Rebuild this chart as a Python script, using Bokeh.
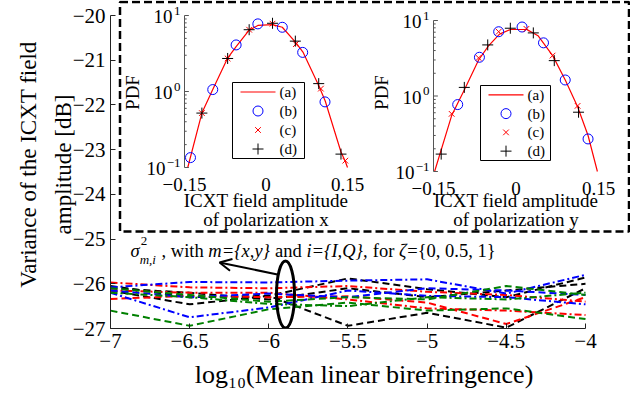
import math
from bokeh.plotting import figure
from bokeh.models import (Range1d, FixedTicker, CoordinateMapping, LogScale, LinearScale,
                          Arrow, OpenHead, CustomJSTickFormatter)
from bokeh.core.properties import value
from bokeh.embed import file_html
from bokeh.resources import INLINE

FONT = "Liberation Serif"

# ---------------- main chart data ----------------
birefringence_log10 = [-7.0, -6.5, -6.0, -5.5, -5.0, -4.5, -4.0]

black_z0 = [-26.05, -26.30, -26.27, -25.88, -26.12, -26.30, -25.86]
black_z05 = [-26.15, -26.46, -26.27, -26.94, -26.65, -26.98, -26.10]
black_z1 = [-26.10, -26.20, -26.35, -26.10, -26.30, -26.15, -26.00]
red_z0 = [-25.97, -26.08, -26.10, -26.05, -26.18, -26.25, -26.40]
red_z05 = [-26.34, -26.27, -26.30, -26.28, -26.42, -26.90, -26.30]
red_z1 = [-26.15, -26.20, -26.20, -26.35, -26.55, -26.60, -26.70]
blue_z0 = [-26.08, -25.96, -25.97, -25.93, -25.90, -26.22, -25.80]
blue_z05 = [-26.20, -26.75, -26.53, -26.15, -26.27, -26.30, -26.46]
blue_z1 = [-26.15, -26.30, -26.22, -26.30, -26.10, -26.15, -26.25]
green_z0 = [-26.60, -26.94, -26.57, -26.42, -26.60, -26.55, -26.79]
green_z05 = [-26.10, -26.25, -26.40, -26.30, -26.35, -26.05, -26.25]
green_z1 = [-26.20, -26.30, -26.45, -26.50, -26.30, -26.35, -26.20]

x_ticks = [-7, -6.5, -6, -5.5, -5, -4.5, -4]
x_tick_labels = ["−7", "−6.5", "−6", "−5.5", "−5", "−4.5", "−4"]
y_ticks = [-27, -26, -25, -24, -23, -22, -21, -20]
y_tick_labels = ["−27", "−26", "−25", "−24", "−23", "−22", "−21", "−20"]
x_title = "log₁₀(Mean linear birefringence)"
y_title = "Variance of the ICXT field\namplitude [dB]"

# ---------------- inset data (PDF) ----------------
# polarization x
px_a_x = [-0.144, -0.118, -0.098, -0.071, -0.055, -0.031, -0.015, 0.012, 0.030, 0.055, 0.068, 0.097, 0.109, 0.138, 0.146, 0.150]
px_a_y = [0.10, 0.52, 1.06, 2.72, 3.9, 6.4, 7.4, 7.6, 7.0, 4.4, 3.3, 1.2, 0.75, 0.16, 0.12, 0.10]
px_b_x = [-0.139, -0.098, -0.055, -0.015, 0.030, 0.0675, 0.1086]
px_b_y = [0.135, 1.06, 4.1, 7.76, 7.0, 3.27, 0.73]
px_c_x = [-0.118, -0.0706, -0.031, 0.012, 0.055, 0.101, 0.146]
px_c_y = [0.52, 2.72, 6.5, 7.8, 4.2, 1.09, 0.123]
px_d_x = [-0.118, -0.0706, -0.031, 0.012, 0.054, 0.097, 0.138]
px_d_y = [0.52, 2.72, 6.5, 7.9, 4.6, 1.27, 0.15]
# polarization y
py_a_x = [-0.148, -0.117, -0.106, -0.094, -0.068, -0.050, -0.030, -0.010, 0.020, 0.040, 0.067, 0.090, 0.112, 0.131, 0.148]
py_a_y = [0.10, 0.55, 0.80, 1.2, 3.0, 4.6, 6.6, 7.6, 7.6, 6.3, 3.4, 1.6, 0.72, 0.30, 0.10]
py_b_x = [-0.106, -0.0665, -0.0315, 0.011, 0.050, 0.0895, 0.131]
py_b_y = [0.77, 3.26, 7.1, 8.2, 5.06, 1.63, 0.27]
py_c_x = [-0.117, -0.068, -0.0315, 0.019, 0.0665, 0.112]
py_c_y = [0.58, 3.2, 7.1, 7.75, 3.43, 0.74]
py_d_x = [-0.136, -0.094, -0.0514, -0.0103, 0.0315, 0.0696, 0.1137]
py_d_y = [0.17, 1.30, 4.75, 7.9, 6.85, 2.94, 0.61]

inset_x_ticks = [-0.15, 0.0, 0.15]
inset_x_tick_labels = ["−0.15", "0", "0.15"]
inset_y_ticks = [10.0, 1.0, 0.1]
inset_y_tick_exps = ["1", "0", "−1"]
legend_labels = ["(a)", "(b)", "(c)", "(d)"]

# annotation pieces: (text, role, italic); spaces handled by advancing the cursor
annotation = [("σ", "main", True), ("m,i", "sub", True), (" ", "gap", False),
              (",", "main", False), (" ", "gap", False), ("with", "main", False),
              (" ", "gap", False), ("m={x,y}", "main", True), (" ", "gap", False),
              ("and", "main", False), (" ", "gap", False), ("i={I,Q},", "main", True),
              (" ", "gap", False), ("for", "main", False), (" ", "gap", False),
              ("ζ", "main", True), ("={0, 0.5, 1}", "main", False)]

# ---------------- page-pixel helpers (layout only) ----------------
def X(px):
    return -7 + (px - 118) / 158.333

def Y(py):
    return -27 + (336 - py) / 44.714

# approximate Times advance widths (em) for layout of the annotation pieces
_W = {" ": .25, ",": .25, ".": .25, "=": .6, "{": .45, "}": .45, "w": .722, "i": .278,
      "t": .278, "h": .5, "m": .722, "x": .444, "y": .444, "a": .444, "n": .5, "d": .5,
      "I": .333, "Q": .722, "f": .333, "o": .5, "r": .333, "0": .5, "1": .5, "5": .5,
      "σ": .55, "ζ": .45}

def tw(s, size):
    return sum(_W.get(c, .5) for c in s) * size

def tick_fmt(tvals, tlabels):
    return CustomJSTickFormatter(args=dict(tvals=tvals, tlabels=tlabels), code="""
        for (let k = 0; k < tvals.length; k++) {
            if (Math.abs(tvals[k] - tick) < 1e-9) { return tlabels[k]; }
        }
        return "";
    """)

p = figure(width=630, height=394, output_backend="svg", toolbar_location=None,
           x_range=Range1d(X(118), X(638)), y_range=Range1d(Y(336), Y(8)),
           min_border_left=110, min_border_right=0, min_border_top=0, min_border_bottom=66)
p.outline_line_color = None
p.grid.visible = False
p.background_fill_color = "white"
p.border_fill_color = "white"

for ax in (p.xaxis[0], p.yaxis[0]):
    ax.major_label_text_font = FONT
    ax.major_label_text_font_size = "21px"
    ax.major_label_text_color = "black"
    ax.axis_line_color = "#222222"
    ax.major_tick_line_color = "#222222"
    ax.major_tick_in = 5
    ax.major_tick_out = 0
    ax.minor_tick_line_color = None
    ax.major_label_standoff = 5
    ax.axis_label_text_font = FONT
    ax.axis_label_text_font_style = "normal"
    ax.axis_label_text_color = "black"
p.xaxis.ticker = FixedTicker(ticks=x_ticks)
p.xaxis.formatter = tick_fmt(x_ticks, x_tick_labels)
p.xaxis.bounds = (-7, -4)
p.xaxis.axis_label = x_title + "\u00a0" * 2
p.xaxis.axis_label_text_font_size = "26px"
p.xaxis.axis_label_standoff = 9
p.yaxis.ticker = FixedTicker(ticks=y_ticks)
p.yaxis.formatter = tick_fmt(y_ticks, y_tick_labels)
p.yaxis.bounds = (-27, -20)
p.yaxis.axis_label = y_title
p.yaxis.axis_label_text_font_size = "23px"
p.yaxis.axis_label_standoff = -6
p.yaxis.axis_label_text_line_height = 1.4

DASH = "7 4"
DASHDOT = "7 3 2 3"
series = [
    (black_z0, "black", DASH), (black_z05, "black", DASH), (black_z1, "black", DASH),
    (red_z0, "red", DASHDOT), (red_z05, "red", DASH), (red_z1, "red", DASHDOT),
    (blue_z0, "blue", DASHDOT), (blue_z05, "blue", DASHDOT), (blue_z1, "blue", DASH),
    (green_z0, "green", DASH), (green_z05, "green", DASH), (green_z1, "green", DASHDOT),
]
for vals, col, dash in series:
    p.line(birefringence_log10, vals, line_color=col, line_dash=dash, line_width=2)

# ellipse + arrow + annotation
p.ellipse(x=[X(293)], y=[Y(302)], width=[18 / 158.333], height=[67 / 44.714],
          fill_color=None, line_color="black", line_width=3)
p.add_layout(Arrow(end=OpenHead(size=12, line_width=2, line_color="black"),
                   x_start=X(285), y_start=Y(282), x_end=X(227), y_end=Y(270),
                   line_width=2, line_color="black"))

FS = 18.5
SUB = 13.0
cur = 138.0
for t, role, it in annotation:
    st = "italic" if it else "normal"
    if role == "gap":
        cur += tw(t, FS)
    elif role == "sub":
        p.text(x=[X(cur)], y=[Y(248)], text=["2"], text_font=value(FONT),
               text_font_size=f"{SUB}px", text_align="left", text_baseline="middle",
               text_color="black")
        p.text(x=[X(cur - 1)], y=[Y(267)], text=[t], text_font=value(FONT),
               text_font_size=f"{SUB}px", text_font_style=st, text_align="left",
               text_baseline="middle", text_color="black")
        cur += tw(t, SUB)
    else:
        p.text(x=[X(cur)], y=[Y(258)], text=[t], text_font=value(FONT),
               text_font_size=f"{FS}px", text_font_style=st, text_align="left",
               text_baseline="middle", text_color="black")
        cur += tw(t, FS)

# dashed box around insets
p.quad(left=[X(127.5)], right=[X(636.5)], top=[Y(9.5)], bottom=[Y(239)],
       fill_color=None, line_color="black", line_dash="8 4", line_width=2.5)

# ---------------- insets ----------------
def inset(left, right, top, bottom, ax_, ay_, bx, by, cx, cy, dx, dy, pol, leg):
    cm = CoordinateMapping(x_source=Range1d(-0.15, 0.15), y_source=Range1d(0.1, 10),
                           x_scale=LinearScale(), y_scale=LogScale(),
                           x_target=Range1d(X(left), X(right)),
                           y_target=Range1d(Y(bottom), Y(top)))
    rs = []
    rs.append(p.line(ax_, ay_, line_color="red", line_width=1.2))
    rs.append(p.scatter(bx, by, marker="circle", size=10, fill_color=None,
                        line_color="blue", line_width=1))
    rs.append(p.scatter(cx, cy, marker="x", size=8, line_color="red", line_width=1))
    rs.append(p.scatter(dx, dy, marker="cross", size=11, line_color="black", line_width=1))
    # axis line + ticks
    rs.append(p.segment(x0=[-0.15], y0=[0.1], x1=[-0.15], y1=[10],
                        line_color="#555555", line_width=1))
    minors = [m * 10 ** e for e in (-1, 0) for m in range(2, 10)]
    rs.append(p.segment(x0=[-0.15] * len(minors), y0=minors,
                        x1=[-0.15 + 0.004] * len(minors), y1=minors,
                        line_color="#555555", line_width=1))
    rs.append(p.segment(x0=[-0.15] * 3, y0=inset_y_ticks, x1=[-0.15 + 0.008] * 3,
                        y1=inset_y_ticks, line_color="#555555", line_width=1))
    # tick labels
    rs.append(p.text(x=inset_x_ticks, y=[0.1] * 3, text=inset_x_tick_labels,
                     text_font=value(FONT), text_font_size="19px", text_align="center",
                     text_baseline="middle", y_offset=17, text_color="black"))
    for v, e in zip(inset_y_ticks, inset_y_tick_exps):
        ew = 7 if len(e) == 1 else 14
        rs.append(p.text(x=[-0.15], y=[v], text=["10"], text_font=value(FONT),
                         text_font_size="19px", text_align="right", text_baseline="middle",
                         x_offset=-(5 + ew), y_offset=1, text_color="black"))
        rs.append(p.text(x=[-0.15], y=[v], text=[e], text_font=value(FONT),
                         text_font_size="13px", text_align="right", text_baseline="middle",
                         x_offset=-4, y_offset=-5, text_color="black"))
    for r in rs:
        r.coordinates = cm
    # axis titles (page positions)
    cxp = (left + right) / 2
    p.text(x=[X(cxp)] * 2, y=[Y(208), Y(227)],
           text=["ICXT field amplitude", "of polarization " + pol],
           text_font=value(FONT), text_font_size="19px", text_align="center",
           text_baseline="middle", text_color="black")
    p.text(x=[X(left - 52)], y=[Y(100)], text=["PDF"], text_font=value(FONT),
           text_font_size="19px", angle=math.pi / 2, text_align="center",
           text_baseline="middle", text_color="black")
    # legend (manual)
    lx0, lx1, ly0, ly1 = leg
    p.quad(left=[X(lx0)], right=[X(lx1)], top=[Y(ly0)], bottom=[Y(ly1)],
           fill_color="white", line_color="black", line_width=1)
    step = (ly1 - ly0) / 4.0
    ys = [Y(ly0 + step * (k + 0.5)) for k in range(4)]
    gx0, gx1 = lx0 + 8, lx0 + 43
    gxm = (gx0 + gx1) / 2
    p.line([X(gx0), X(gx1)], [ys[0], ys[0]], line_color="red", line_width=1.2)
    p.scatter([X(gxm)], [ys[1]], marker="circle", size=10, fill_color=None,
              line_color="blue", line_width=1)
    p.scatter([X(gxm)], [ys[2]], marker="x", size=8, line_color="red", line_width=1)
    p.scatter([X(gxm)], [ys[3]], marker="cross", size=11, line_color="black", line_width=1)
    p.text(x=[X(gx1 + 4)] * 4, y=ys, text=legend_labels, text_font=value(FONT),
           text_font_size="15px", text_align="left", text_baseline="middle",
           text_color="black")

inset(192, 355, 23, 175, px_a_x, px_a_y, px_b_x, px_b_y, px_c_x, px_c_y, px_d_x, px_d_y,
      "x", (240, 312, 90, 166))
inset(441, 606, 28, 179, py_a_x, py_a_y, py_b_x, py_b_y, py_c_x, py_c_y, py_d_x, py_d_y,
      "y", (488, 558, 93, 168))

open("out.html", "w").write(file_html(p, INLINE))
